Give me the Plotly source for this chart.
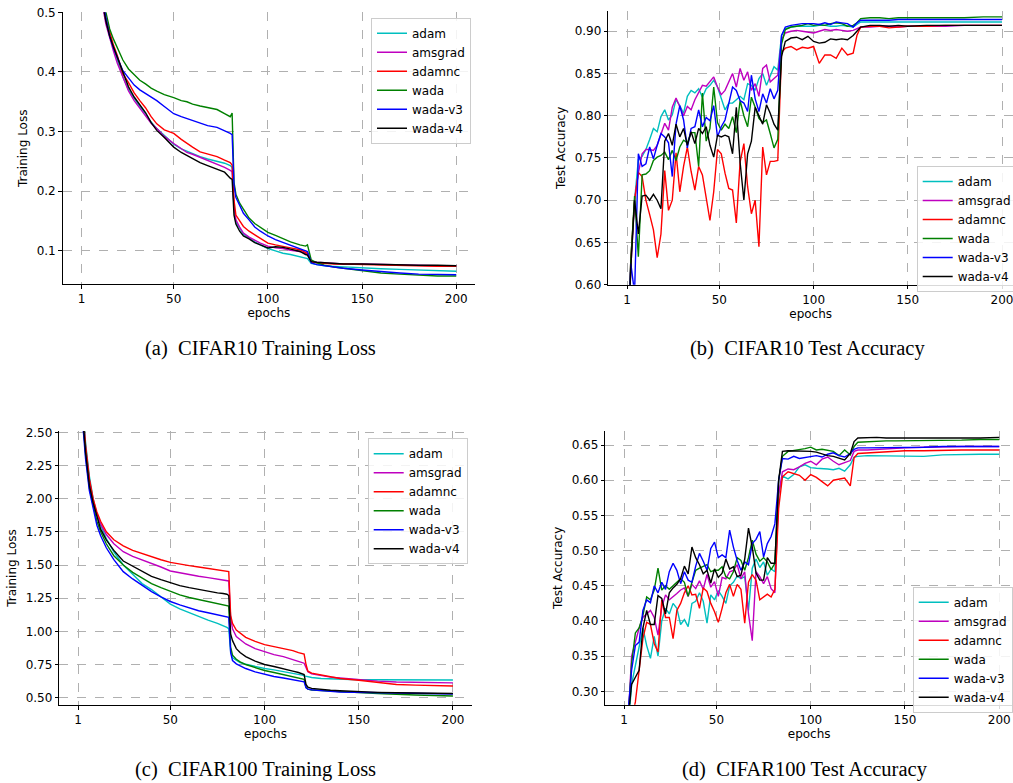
import plotly.graph_objects as go

NAMES = ["adam", "amsgrad", "adamnc", "wada", "wada-v3", "wada-v4"]
COLORS = ["#00bfbf", "#bf00bf", "#ff0000", "#008000", "#0000ff", "#000000"]

# ---------------- (a) CIFAR10 training loss ----------------
EPOCHS_A = [1, 3, 5, 8, 10, 12, 14, 16, 18, 20,
            23, 26, 29, 32, 35, 38, 41, 45, 50, 54,
            57, 60, 64, 68, 73, 77, 80, 81, 82, 83,
            85, 87, 90, 93, 96, 100, 104, 108, 112, 117,
            120, 121, 122, 123, 126, 130, 135, 140, 150, 160,
            170, 180, 190, 200]
A_ADAM = [1.55, 1.10, 0.86, 0.68, 0.60, 0.520, 0.485, 0.460, 0.440, 0.420,
          0.392, 0.370, 0.355, 0.342, 0.330, 0.316, 0.305, 0.293, 0.279, 0.271,
          0.267, 0.263, 0.258, 0.254, 0.250, 0.247, 0.243, 0.240, 0.170, 0.148,
          0.138, 0.128, 0.122, 0.115, 0.110, 0.104, 0.100, 0.096, 0.094, 0.090,
          0.088, 0.087, 0.083, 0.079, 0.077, 0.075, 0.074, 0.073, 0.071, 0.070,
          0.069, 0.068, 0.067, 0.066]
A_AMSGRAD = [1.55, 1.10, 0.86, 0.68, 0.60, 0.515, 0.480, 0.455, 0.435, 0.415,
             0.390, 0.368, 0.352, 0.340, 0.328, 0.314, 0.305, 0.292, 0.280, 0.272,
             0.265, 0.262, 0.257, 0.252, 0.245, 0.240, 0.235, 0.233, 0.175, 0.152,
             0.140, 0.130, 0.123, 0.118, 0.113, 0.108, 0.105, 0.104, 0.101, 0.099,
             0.096, 0.095, 0.088, 0.082, 0.081, 0.080, 0.079, 0.078, 0.078, 0.077,
             0.076, 0.076, 0.075, 0.075]
A_ADAMNC = [1.60, 1.12, 0.88, 0.70, 0.62, 0.530, 0.490, 0.465, 0.445, 0.428,
            0.397, 0.382, 0.365, 0.352, 0.340, 0.325, 0.313, 0.303, 0.297, 0.287,
            0.280, 0.274, 0.266, 0.262, 0.258, 0.252, 0.248, 0.244, 0.185, 0.160,
            0.150, 0.141, 0.133, 0.127, 0.120, 0.113, 0.110, 0.107, 0.105, 0.102,
            0.097, 0.096, 0.089, 0.082, 0.080, 0.079, 0.078, 0.078, 0.077, 0.076,
            0.075, 0.075, 0.074, 0.074]
A_WADA = [1.70, 1.20, 0.93, 0.74, 0.65, 0.560, 0.500, 0.472, 0.455, 0.440,
          0.420, 0.405, 0.395, 0.386, 0.380, 0.373, 0.368, 0.362, 0.357, 0.352,
          0.350, 0.346, 0.343, 0.340, 0.337, 0.330, 0.325, 0.331, 0.215, 0.195,
          0.180, 0.170, 0.155, 0.146, 0.139, 0.131, 0.126, 0.120, 0.115, 0.110,
          0.108, 0.110, 0.095, 0.085, 0.080, 0.076, 0.073, 0.071, 0.066, 0.063,
          0.061, 0.059, 0.058, 0.058]
A_WADA_V3 = [1.60, 1.12, 0.88, 0.70, 0.62, 0.530, 0.490, 0.460, 0.440, 0.425,
             0.402, 0.390, 0.378, 0.370, 0.364, 0.357, 0.352, 0.342, 0.330, 0.325,
             0.322, 0.318, 0.314, 0.310, 0.307, 0.302, 0.297, 0.295, 0.210, 0.190,
             0.175, 0.163, 0.152, 0.140, 0.133, 0.125, 0.119, 0.114, 0.110, 0.104,
             0.100, 0.099, 0.090, 0.080, 0.077, 0.075, 0.073, 0.071, 0.068, 0.065,
             0.063, 0.061, 0.060, 0.060]
A_WADA_V4 = [1.55, 1.10, 0.86, 0.68, 0.60, 0.520, 0.485, 0.460, 0.442, 0.425,
             0.397, 0.375, 0.358, 0.345, 0.332, 0.315, 0.302, 0.290, 0.274, 0.265,
             0.260, 0.254, 0.248, 0.243, 0.237, 0.232, 0.222, 0.220, 0.160, 0.145,
             0.133, 0.125, 0.120, 0.114, 0.110, 0.105, 0.107, 0.106, 0.103, 0.099,
             0.094, 0.093, 0.087, 0.082, 0.081, 0.080, 0.079, 0.078, 0.078, 0.077,
             0.077, 0.076, 0.076, 0.075]

# ---------------- (b) CIFAR10 test accuracy ----------------
EPOCHS_B = [1, 3, 5, 7, 9, 11, 13, 15, 17, 19,
            21, 23, 25, 27, 29, 31, 33, 35, 37, 39,
            41, 43, 45, 47, 49, 51, 53, 55, 57, 59,
            61, 63, 65, 67, 69, 71, 73, 75, 77, 79,
            81, 83, 85, 88, 91, 94, 97, 100, 103, 106,
            109, 112, 115, 118, 121, 123, 125, 130, 135, 140,
            145, 150, 160, 170, 180, 190, 200]
B_ADAM = [0.50, 0.63, 0.70, 0.748, 0.752, 0.760, 0.772, 0.785, 0.781, 0.799,
          0.807, 0.795, 0.801, 0.819, 0.812, 0.803, 0.823, 0.830, 0.827, 0.832,
          0.822, 0.832, 0.836, 0.842, 0.834, 0.819, 0.807, 0.815, 0.815, 0.819,
          0.823, 0.819, 0.838, 0.836, 0.830, 0.844, 0.850, 0.836, 0.846, 0.858,
          0.854, 0.895, 0.903, 0.905, 0.906, 0.906, 0.906, 0.906, 0.907, 0.907,
          0.906, 0.906, 0.907, 0.906, 0.905, 0.908, 0.911, 0.911, 0.911, 0.911,
          0.911, 0.911, 0.911, 0.911, 0.911, 0.911, 0.911]
B_AMSGRAD = [0.50, 0.62, 0.70, 0.732, 0.755, 0.760, 0.760, 0.759, 0.765, 0.779,
             0.791, 0.783, 0.810, 0.821, 0.810, 0.800, 0.811, 0.807, 0.819, 0.827,
             0.836, 0.835, 0.840, 0.846, 0.834, 0.825, 0.830, 0.840, 0.850, 0.834,
             0.856, 0.842, 0.852, 0.830, 0.838, 0.823, 0.856, 0.860, 0.840, 0.844,
             0.848, 0.890, 0.898, 0.900, 0.901, 0.900, 0.899, 0.898, 0.900, 0.902,
             0.901, 0.902, 0.901, 0.900, 0.901, 0.903, 0.905, 0.905, 0.906, 0.906,
             0.905, 0.906, 0.906, 0.906, 0.907, 0.907, 0.907]
B_ADAMNC = [0.50, 0.63, 0.70, 0.733, 0.728, 0.700, 0.683, 0.665, 0.632, 0.660,
            0.735, 0.688, 0.700, 0.756, 0.710, 0.740, 0.763, 0.734, 0.712, 0.740,
            0.730, 0.700, 0.676, 0.710, 0.760, 0.755, 0.732, 0.714, 0.712, 0.673,
            0.745, 0.767, 0.716, 0.684, 0.700, 0.645, 0.763, 0.730, 0.746, 0.746,
            0.747, 0.875, 0.880, 0.882, 0.878, 0.881, 0.880, 0.882, 0.862, 0.872,
            0.872, 0.868, 0.880, 0.872, 0.874, 0.895, 0.905, 0.906, 0.906, 0.904,
            0.905, 0.906, 0.906, 0.907, 0.907, 0.907, 0.907]
B_WADA = [0.50, 0.628, 0.705, 0.633, 0.730, 0.731, 0.735, 0.747, 0.751, 0.753,
          0.757, 0.748, 0.759, 0.747, 0.763, 0.771, 0.768, 0.780, 0.780, 0.740,
          0.827, 0.770, 0.785, 0.834, 0.792, 0.783, 0.790, 0.785, 0.799, 0.780,
          0.818, 0.800, 0.787, 0.822, 0.810, 0.797, 0.792, 0.795, 0.779, 0.762,
          0.772, 0.885, 0.902, 0.905, 0.906, 0.907, 0.909, 0.907, 0.908, 0.907,
          0.909, 0.910, 0.909, 0.906, 0.907, 0.910, 0.915, 0.916, 0.916, 0.915,
          0.916, 0.916, 0.916, 0.916, 0.916, 0.917, 0.917]
B_WADA_V3 = [0.48, 0.625, 0.59, 0.755, 0.740, 0.743, 0.763, 0.749, 0.765, 0.779,
             0.775, 0.768, 0.728, 0.790, 0.812, 0.795, 0.762, 0.785, 0.787, 0.807,
             0.787, 0.798, 0.794, 0.812, 0.775, 0.787, 0.795, 0.815, 0.834, 0.830,
             0.818, 0.815, 0.805, 0.848, 0.820, 0.805, 0.826, 0.815, 0.832, 0.820,
             0.830, 0.895, 0.905, 0.907, 0.908, 0.909, 0.909, 0.909, 0.908, 0.910,
             0.908, 0.911, 0.910, 0.909, 0.905, 0.910, 0.913, 0.913, 0.913, 0.913,
             0.914, 0.914, 0.914, 0.914, 0.914, 0.914, 0.914]
B_WADA_V4 = [0.50, 0.62, 0.70, 0.660, 0.705, 0.706, 0.700, 0.707, 0.700, 0.690,
             0.770, 0.779, 0.765, 0.790, 0.775, 0.785, 0.765, 0.781, 0.767, 0.785,
             0.779, 0.787, 0.765, 0.751, 0.777, 0.775, 0.777, 0.775, 0.755, 0.810,
             0.745, 0.700, 0.755, 0.770, 0.810, 0.799, 0.790, 0.813, 0.803, 0.790,
             0.783, 0.870, 0.888, 0.892, 0.893, 0.890, 0.894, 0.888, 0.886, 0.887,
             0.891, 0.890, 0.891, 0.890, 0.895, 0.900, 0.905, 0.907, 0.907, 0.906,
             0.907, 0.906, 0.907, 0.907, 0.907, 0.907, 0.907]

# ---------------- (c) CIFAR100 training loss ----------------
EPOCHS_C = [1, 3, 5, 7, 9, 11, 13, 16, 20, 25,
            30, 35, 40, 45, 50, 55, 60, 65, 70, 75,
            78, 80, 81, 82, 83, 85, 87, 90, 95, 100,
            105, 110, 115, 118, 120, 121, 122, 123, 125, 130,
            135, 140, 150, 160, 170, 180, 190, 200]
C_ADAM = [4.30, 2.80, 2.42, 2.17, 2.00, 1.88, 1.80, 1.70, 1.60, 1.50,
          1.430, 1.360, 1.315, 1.260, 1.205, 1.170, 1.140, 1.110, 1.085, 1.060,
          1.045, 1.030, 1.020, 0.850, 0.800, 0.780, 0.765, 0.752, 0.735, 0.720,
          0.710, 0.698, 0.685, 0.675, 0.670, 0.665, 0.662, 0.658, 0.652, 0.645,
          0.642, 0.640, 0.635, 0.635, 0.634, 0.633, 0.633, 0.633]
C_AMSGRAD = [4.20, 2.75, 2.38, 2.14, 1.98, 1.88, 1.81, 1.73, 1.66, 1.60,
             1.565, 1.540, 1.510, 1.485, 1.455, 1.440, 1.430, 1.415, 1.405, 1.395,
             1.385, 1.380, 1.380, 1.100, 1.020, 0.960, 0.935, 0.905, 0.870, 0.845,
             0.825, 0.810, 0.790, 0.775, 0.765, 0.760, 0.720, 0.695, 0.680, 0.665,
             0.655, 0.648, 0.635, 0.625, 0.618, 0.615, 0.613, 0.612]
C_ADAMNC = [4.20, 2.75, 2.40, 2.15, 2.00, 1.90, 1.83, 1.75, 1.69, 1.645,
            1.610, 1.585, 1.560, 1.540, 1.520, 1.505, 1.495, 1.485, 1.475, 1.465,
            1.460, 1.455, 1.450, 1.120, 1.060, 1.010, 0.985, 0.955, 0.925, 0.900,
            0.885, 0.872, 0.855, 0.840, 0.832, 0.828, 0.750, 0.700, 0.685, 0.670,
            0.655, 0.645, 0.632, 0.615, 0.600, 0.595, 0.590, 0.588]
C_WADA = [4.10, 2.70, 2.33, 2.08, 1.95, 1.83, 1.75, 1.66, 1.57, 1.50,
          1.445, 1.405, 1.360, 1.330, 1.300, 1.275, 1.255, 1.240, 1.225, 1.210,
          1.200, 1.195, 1.190, 0.880, 0.820, 0.790, 0.770, 0.750, 0.725, 0.705,
          0.690, 0.675, 0.660, 0.650, 0.642, 0.638, 0.580, 0.565, 0.558, 0.553,
          0.548, 0.545, 0.538, 0.532, 0.525, 0.520, 0.517, 0.513]
C_WADA_V3 = [4.00, 2.65, 2.30, 2.06, 1.93, 1.80, 1.72, 1.63, 1.54, 1.45,
             1.395, 1.345, 1.300, 1.260, 1.225, 1.200, 1.175, 1.155, 1.140, 1.125,
             1.115, 1.110, 1.105, 0.840, 0.780, 0.755, 0.740, 0.720, 0.695, 0.675,
             0.660, 0.648, 0.635, 0.627, 0.622, 0.620, 0.575, 0.565, 0.560, 0.552,
             0.548, 0.543, 0.540, 0.535, 0.532, 0.530, 0.529, 0.528]
C_WADA_V4 = [4.10, 2.70, 2.35, 2.10, 1.97, 1.86, 1.77, 1.69, 1.61, 1.53,
             1.490, 1.450, 1.415, 1.390, 1.365, 1.345, 1.330, 1.315, 1.305, 1.290,
             1.285, 1.280, 1.270, 0.980, 0.930, 0.870, 0.840, 0.810, 0.775, 0.750,
             0.735, 0.720, 0.700, 0.690, 0.680, 0.675, 0.600, 0.580, 0.570, 0.562,
             0.556, 0.552, 0.545, 0.540, 0.537, 0.535, 0.533, 0.532]

# ---------------- (d) CIFAR100 test accuracy ----------------
EPOCHS_D = [1, 3, 5, 7, 9, 11, 13, 15, 17, 19,
            21, 23, 25, 27, 29, 31, 33, 35, 37, 39,
            41, 43, 45, 47, 49, 51, 53, 55, 57, 59,
            61, 63, 65, 67, 69, 71, 73, 75, 77, 79,
            81, 83, 85, 88, 91, 94, 97, 100, 103, 106,
            109, 112, 115, 118, 121, 123, 125, 130, 135, 140,
            145, 150, 160, 170, 180, 190, 200]
D_ADAM = [0.19, 0.24, 0.31, 0.335, 0.360, 0.390, 0.365, 0.347, 0.378, 0.350,
          0.400, 0.418, 0.410, 0.425, 0.418, 0.395, 0.402, 0.392, 0.425, 0.428,
          0.440, 0.428, 0.397, 0.437, 0.430, 0.443, 0.435, 0.425, 0.450, 0.455,
          0.464, 0.460, 0.463, 0.415, 0.475, 0.488, 0.476, 0.484, 0.465, 0.474,
          0.470, 0.580, 0.606, 0.602, 0.608, 0.619, 0.622, 0.618, 0.617, 0.617,
          0.616, 0.615, 0.617, 0.613, 0.622, 0.633, 0.634, 0.635, 0.635, 0.635,
          0.634, 0.635, 0.634, 0.636, 0.637, 0.637, 0.637]
D_AMSGRAD = [0.20, 0.25, 0.35, 0.370, 0.390, 0.405, 0.410, 0.415, 0.405, 0.380,
             0.420, 0.437, 0.430, 0.434, 0.439, 0.444, 0.447, 0.435, 0.452, 0.446,
             0.457, 0.445, 0.466, 0.448, 0.456, 0.435, 0.462, 0.460, 0.470, 0.472,
             0.480, 0.460, 0.470, 0.410, 0.372, 0.470, 0.463, 0.453, 0.463, 0.446,
             0.440, 0.580, 0.612, 0.616, 0.615, 0.619, 0.624, 0.627, 0.622, 0.630,
             0.633, 0.627, 0.622, 0.625, 0.628, 0.641, 0.643, 0.643, 0.644, 0.645,
             0.645, 0.646, 0.647, 0.648, 0.648, 0.648, 0.648]
D_ADAMNC = [0.18, 0.22, 0.26, 0.285, 0.335, 0.375, 0.398, 0.395, 0.368, 0.356,
            0.430, 0.405, 0.405, 0.375, 0.415, 0.425, 0.440, 0.450, 0.437, 0.438,
            0.418, 0.447, 0.442, 0.425, 0.413, 0.398, 0.418, 0.440, 0.452, 0.435,
            0.452, 0.445, 0.397, 0.455, 0.466, 0.458, 0.430, 0.434, 0.438, 0.434,
            0.445, 0.560, 0.605, 0.612, 0.610, 0.607, 0.600, 0.608, 0.604, 0.598,
            0.592, 0.600, 0.602, 0.603, 0.592, 0.632, 0.638, 0.639, 0.640, 0.641,
            0.642, 0.642, 0.642, 0.643, 0.643, 0.643, 0.643]
D_WADA = [0.20, 0.25, 0.34, 0.383, 0.390, 0.408, 0.434, 0.430, 0.444, 0.475,
          0.444, 0.450, 0.445, 0.450, 0.456, 0.460, 0.455, 0.435, 0.455, 0.472,
          0.475, 0.478, 0.480, 0.470, 0.472, 0.472, 0.477, 0.463, 0.460, 0.470,
          0.490, 0.486, 0.472, 0.490, 0.515, 0.495, 0.485, 0.490, 0.484, 0.473,
          0.482, 0.600, 0.634, 0.641, 0.642, 0.643, 0.645, 0.647, 0.643, 0.644,
          0.643, 0.641, 0.635, 0.643, 0.636, 0.648, 0.654, 0.655, 0.655, 0.656,
          0.656, 0.656, 0.657, 0.657, 0.657, 0.658, 0.658]
D_WADA_V3 = [0.20, 0.26, 0.33, 0.365, 0.370, 0.415, 0.430, 0.426, 0.450, 0.440,
             0.455, 0.445, 0.470, 0.482, 0.472, 0.453, 0.470, 0.458, 0.455, 0.478,
             0.496, 0.485, 0.472, 0.503, 0.512, 0.490, 0.494, 0.490, 0.529, 0.505,
             0.486, 0.472, 0.484, 0.480, 0.510, 0.516, 0.527, 0.491, 0.510, 0.520,
             0.538, 0.600, 0.631, 0.630, 0.634, 0.631, 0.632, 0.634, 0.635, 0.633,
             0.637, 0.639, 0.635, 0.633, 0.638, 0.644, 0.646, 0.646, 0.646, 0.647,
             0.647, 0.647, 0.647, 0.648, 0.648, 0.648, 0.648]
D_WADA_V4 = [0.20, 0.25, 0.31, 0.320, 0.330, 0.390, 0.415, 0.395, 0.395, 0.436,
             0.432, 0.410, 0.440, 0.447, 0.452, 0.460, 0.478, 0.467, 0.505, 0.490,
             0.480, 0.467, 0.472, 0.454, 0.474, 0.462, 0.468, 0.488, 0.474, 0.477,
             0.463, 0.465, 0.488, 0.532, 0.505, 0.468, 0.458, 0.458, 0.490, 0.482,
             0.482, 0.600, 0.641, 0.642, 0.642, 0.641, 0.642, 0.641, 0.640, 0.637,
             0.635, 0.634, 0.632, 0.629, 0.638, 0.655, 0.660, 0.661, 0.661, 0.660,
             0.660, 0.659, 0.660, 0.660, 0.660, 0.660, 0.661]

PANELS = [
    ("x", "y", "legend", EPOCHS_A, [A_ADAM, A_AMSGRAD, A_ADAMNC, A_WADA, A_WADA_V3, A_WADA_V4]),
    ("x2", "y2", "legend2", EPOCHS_B, [B_ADAM, B_AMSGRAD, B_ADAMNC, B_WADA, B_WADA_V3, B_WADA_V4]),
    ("x3", "y3", "legend3", EPOCHS_C, [C_ADAM, C_AMSGRAD, C_ADAMNC, C_WADA, C_WADA_V3, C_WADA_V4]),
    ("x4", "y4", "legend4", EPOCHS_D, [D_ADAM, D_AMSGRAD, D_ADAMNC, D_WADA, D_WADA_V3, D_WADA_V4]),
]

W, H = 1013, 783
FONT = "DejaVu Sans"

fig = go.Figure()
for xa, ya, lg, ep, series in PANELS:
    for name, col, vals in zip(NAMES, COLORS, series):
        assert len(vals) == len(ep), (name, lg, len(vals), len(ep))
        fig.add_trace(go.Scatter(x=ep, y=vals, mode="lines", name=name,
                                 line=dict(color=col, width=1.4),
                                 xaxis=xa, yaxis=ya, legend=lg))


def px_x(p):
    return p / W


def px_y(p):
    return 1 - p / H


def xaxis(domain, rng, anchor):
    return dict(domain=domain, range=rng, anchor=anchor, tickvals=[1, 50, 100, 150, 200],
                ticks="outside", ticklen=3.5, tickcolor="#000", tickwidth=1,
                showline=True, linecolor="#000", linewidth=1.1,
                showgrid=True, gridcolor="#b0b0b0", griddash="dash", gridwidth=0.8,
                zeroline=False, automargin=False, ticklabeloverflow="allow",
                tickfont=dict(family=FONT, size=12, color="#000"),
                title=dict(text="epochs", font=dict(family=FONT, size=12, color="#000"), standoff=2))


def yaxis(domain, rng, anchor, tv, fmt, title):
    return dict(domain=domain, range=rng, anchor=anchor, tickvals=tv, tickformat=fmt,
                ticks="outside", ticklen=3.5, tickcolor="#000", tickwidth=1,
                showline=True, linecolor="#000", linewidth=1.1,
                showgrid=True, gridcolor="#b0b0b0", griddash="dash", gridwidth=0.8,
                zeroline=False, automargin=False, ticklabeloverflow="allow",
                tickfont=dict(family=FONT, size=12, color="#000"),
                title=dict(text=title, font=dict(family=FONT, size=12, color="#000"), standoff=6))


def legend(x, y):
    return dict(x=x, y=y, xanchor="left", yanchor="top", xref="paper", yref="paper",
                bgcolor="rgba(255,255,255,0.85)", bordercolor="#cccccc", borderwidth=1,
                font=dict(family=FONT, size=12, color="#000"), tracegroupgap=0)


fig.update_layout(
    width=W, height=H, margin=dict(l=0, r=0, t=0, b=0, autoexpand=False),
    paper_bgcolor="white", plot_bgcolor="white", showlegend=True,
    xaxis=xaxis([px_x(62.7), px_x(475)], [-8.95, 209.95], "y"),
    yaxis=yaxis([px_y(284.3), px_y(12.3)], [0.044, 0.5], "x",
                [0.1, 0.2, 0.3, 0.4, 0.5], ".1f", "Training Loss"),
    xaxis2=xaxis([px_x(608.3), 1.0], [-8.95, 205.84], "y2"),
    yaxis2=yaxis([px_y(284.7), px_y(11)], [0.60, 0.924], "x2",
                 [0.60, 0.65, 0.70, 0.75, 0.80, 0.85, 0.90], ".2f", "Test Accuracy"),
    xaxis3=xaxis([px_x(59.3), px_x(471.7)], [-8.95, 209.95], "y3"),
    yaxis3=yaxis([px_y(705), px_y(431)], [0.445, 2.51], "x3",
                 [0.50, 0.75, 1.00, 1.25, 1.50, 1.75, 2.00, 2.25, 2.50], ".2f", "Training Loss"),
    xaxis4=xaxis([px_x(605.3), 1.0], [-8.95, 207.3], "y4"),
    yaxis4=yaxis([px_y(704.7), px_y(431)], [0.281, 0.670], "x4",
                 [0.30, 0.35, 0.40, 0.45, 0.50, 0.55, 0.60, 0.65], ".2f", "Test Accuracy"),
    legend=legend(px_x(371), px_y(17.7)),
    legend2=legend(px_x(916.7), px_y(166)),
    legend3=legend(px_x(367.7), px_y(438.3)),
    legend4=legend(px_x(912.7), px_y(586.7)),
)

CAPTIONS = [
    ("(a)\u00a0\u00a0CIFAR10 Training Loss", 260, 348),
    ("(b)\u00a0\u00a0CIFAR10 Test Accuracy", 807, 348),
    ("(c)\u00a0\u00a0CIFAR100 Training Loss", 256, 769),
    ("(d)\u00a0\u00a0CIFAR100 Test Accuracy", 805, 769),
]
for text, cx, cy in CAPTIONS:
    fig.add_annotation(text=text, x=px_x(cx), y=px_y(cy), xref="paper", yref="paper",
                       xanchor="center", yanchor="middle", showarrow=False,
                       font=dict(family="Liberation Serif", size=20.5, color="#000"))

fig.write_html("out.html", config={"displayModeBar": False},
               post_script="document.body.style.margin='0';document.body.style.overflow='hidden';")
